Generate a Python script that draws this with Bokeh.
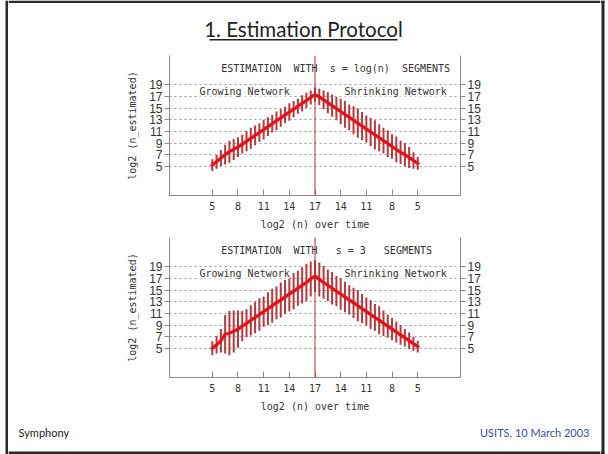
from bokeh.plotting import figure
from bokeh.models import (ColumnDataSource, FixedTicker, LinearAxis, Label,
                          Range1d, Span)
from bokeh.layouts import column, row
from bokeh.core.properties import value
from bokeh.embed import file_html
from bokeh.resources import INLINE

# ---------------- data ----------------
# experiment steps: network grows from log2(n)=5 to 17 then shrinks back to 5
steps = [0, 0.5, 1, 1.5, 2, 2.5, 3, 3.5, 4, 4.5, 5, 5.5, 6, 6.5, 7, 7.5,
         8, 8.5, 9, 9.5, 10, 10.5, 11, 11.5, 12, 12.5, 13, 13.5, 14, 14.5,
         15, 15.5, 16, 16.5, 17, 17.5, 18, 18.5, 19, 19.5, 20, 20.5, 21,
         21.5, 22, 22.5, 23, 23.5, 24]
tick_steps = [0, 3, 6, 9, 12, 15, 18, 21, 24]
tick_labels = ["5", "8", "11", "14", "17", "14", "11", "8", "5"]
y_ticks = [5, 7, 9, 11, 13, 15, 17, 19]
peak_step = 12

# s = log(n) segments: mean estimate and half error bar
est_log = [5.2, 5.8, 6.4, 7.0, 7.5, 7.9, 8.3, 8.8, 9.3, 9.8, 10.3, 10.8,
           11.3, 11.8, 12.3, 12.8, 13.3, 13.8, 14.3, 14.8, 15.3, 15.8, 16.3,
           16.8, 17.3, 16.9, 16.4, 15.9, 15.4, 14.9, 14.4, 13.9, 13.4, 12.9,
           12.4, 11.9, 11.4, 10.9, 10.4, 9.9, 9.4, 8.9, 8.4, 7.9, 7.4, 7.0,
           6.5, 6.0, 5.5]
err_log = [1.0, 1.2, 1.4, 1.7, 1.9, 1.8, 1.7, 1.6, 1.7, 1.8, 1.7, 1.6,
           1.7, 1.6, 1.5, 1.6, 1.5, 1.4, 1.5, 1.4, 1.3, 1.4, 1.3, 1.2, 1.2,
           1.4, 1.6, 1.8, 1.9, 2.0, 2.2, 2.3, 2.2, 2.4, 2.5, 2.4, 2.3, 2.4,
           2.5, 2.3, 2.2, 2.3, 2.1, 2.2, 2.0, 2.0, 1.8, 1.4, 1.1]

# s = 3 segments
est_s3 = [5.0, 5.6, 6.3, 7.4, 7.6, 7.9, 8.3, 8.8, 9.3, 9.8, 10.3, 10.8,
          11.3, 11.8, 12.3, 12.8, 13.3, 13.8, 14.3, 14.8, 15.3, 15.8, 16.3,
          16.9, 17.4, 16.8, 16.3, 15.8, 15.3, 14.8, 14.3, 13.8, 13.3, 12.8,
          12.3, 11.8, 11.3, 10.8, 10.3, 9.8, 9.3, 8.8, 8.3, 7.8, 7.3, 6.8,
          6.3, 5.8, 5.3]
err_s3 = [1.2, 1.5, 2.0, 3.3, 3.8, 3.6, 3.2, 2.6, 2.4, 2.6, 2.7, 2.8,
          2.6, 2.8, 2.9, 2.8, 3.0, 2.9, 3.0, 3.1, 3.0, 3.1, 3.2, 3.0, 2.7,
          2.9, 2.8, 2.7, 2.8, 2.6, 2.7, 2.6, 2.5, 2.6, 2.7, 2.5, 2.4, 2.5,
          2.3, 2.4, 2.2, 2.0, 1.9, 1.8, 1.7, 1.5, 1.4, 1.2, 1.0]

slide_title = "1. Estimation Protocol"
footer_left = "Symphony"
footer_right = "USITS, 10 March 2003"

# ---------------- layout geometry (pixels) ----------------
STRIP = 8            # side strips carrying the slide frame
CW = 592             # centre column width
H_HEAD, H_CHART, H_FOOT = 55, 182, 35
TOTAL_H = H_HEAD + 2 * H_CHART + H_FOOT
X0, X1 = -5, 29
Y0, Y1 = 0, 24

MONO = "DejaVu Sans Mono"
SANS = "Liberation Sans"
SLIDE = "Lato"
BORDER = "#2a2a2a"
NB = "\u00a0"


def blank(width, height):
    """A figure whose frame fills the canvas, in pixel coordinates (y down)."""
    p = figure(width=width, height=height, x_range=Range1d(0, width),
               y_range=Range1d(height, 0), output_backend="svg",
               toolbar_location=None, x_axis_location=None,
               y_axis_location=None, min_border=0, outline_line_color=None,
               background_fill_color="white", border_fill_color="white",
               frame_align=False)
    p.grid.visible = False
    return p


def chart(est, err, title_text):
    p = figure(width=CW, height=H_CHART, x_range=Range1d(X0, X1),
               y_range=Range1d(Y0, Y1), output_backend="svg",
               toolbar_location=None, min_border_left=161,
               min_border_right=140, min_border_top=0,
               min_border_bottom=42, outline_line_color=None,
               background_fill_color="white", border_fill_color="white",
               frame_align=False)

    lo = [m - e for m, e in zip(est, err)]
    hi = [m + e for m, e in zip(est, err)]
    src = ColumnDataSource(dict(x=steps, y=est, lo=lo, hi=hi))

    p.xgrid.visible = False
    p.ygrid.ticker = FixedTicker(ticks=y_ticks)
    p.ygrid.grid_line_color = "#9a9a9a"
    p.ygrid.grid_line_dash = "2 3"
    p.ygrid.grid_line_width = 1

    p.segment(x0="x", y0="lo", x1="x", y1="hi", source=src,
              line_color="#b33a3e", line_width=2.0)
    p.line("x", "y", source=src, line_color="#e5121a", line_width=3)
    p.scatter("x", "y", source=src, marker="cross", size=5,
              line_color="#e5121a", line_width=1)
    p.add_layout(Span(location=peak_step, dimension="height",
                      line_color="#c02a2a", line_width=1))

    xa = p.xaxis[0]
    xa.ticker = FixedTicker(ticks=tick_steps)
    xa.major_label_overrides = {t: l for t, l in zip(tick_steps, tick_labels)}
    xa.major_tick_in = 6
    xa.major_tick_out = 0
    xa.minor_tick_line_color = None
    xa.axis_line_color = "#8a8a8a"
    xa.major_tick_line_color = "#8a8a8a"
    xa.major_label_text_font = MONO
    xa.major_label_text_font_size = "10px"
    xa.major_label_text_color = "#333333"
    xa.major_label_standoff = 6
    xa.axis_label = "log2 (n) over time"
    xa.axis_label_text_font = MONO
    xa.axis_label_text_font_size = "10px"
    xa.axis_label_text_font_style = "normal"
    xa.axis_label_text_color = "#333333"
    xa.axis_label_standoff = 6

    ra = LinearAxis()
    p.add_layout(ra, "right")
    for ax in (p.yaxis[0], ra):
        ax.ticker = FixedTicker(ticks=y_ticks)
        ax.major_tick_in = 0
        ax.major_tick_out = 5
        ax.minor_tick_line_color = None
        ax.axis_line_color = "#8a8a8a"
        ax.major_tick_line_color = "#8a8a8a"
        ax.major_label_text_font = SANS
        ax.major_label_text_font_size = "12px"
        ax.major_label_text_color = "#333333"
        ax.major_label_standoff = 2
    ya = p.yaxis[0]
    ya.axis_label = "log2 (n_estimated)"
    ya.axis_label_text_font = MONO
    ya.axis_label_text_font_size = "10px"
    ya.axis_label_text_font_style = "normal"
    ya.axis_label_text_color = "#333333"
    ya.axis_label_standoff = 8

    p.add_layout(Label(x=1.05, y=21.8, text=title_text,
                       text_font=MONO, text_font_size="10px",
                       text_color="#333333", text_baseline="middle"))
    p.add_layout(Label(x=-1.5, y=17.9, text="Growing" + NB + "Network",
                       text_font=MONO, text_font_size="10px",
                       text_color="#333333", text_baseline="middle",
                       background_fill_color="white"))
    p.add_layout(Label(x=15.45, y=17.9, text="Shrinking" + NB + "Network",
                       text_font=MONO, text_font_size="10px",
                       text_color="#333333", text_baseline="middle",
                       background_fill_color="white"))
    return p


t1 = ("ESTIMATION" + NB * 2 + "WITH" + NB * 2 + "s" + NB + "=" + NB +
      "log(n)" + NB * 2 + "SEGMENTS")
t2 = ("ESTIMATION" + NB * 2 + "WITH" + NB * 3 + "s" + NB + "=" + NB + "3" +
      NB * 3 + "SEGMENTS")

p1 = chart(est_log, err_log, t1)
p2 = chart(est_s3, err_s3, t2)

# header: slide title with underline and top edge of the slide frame
head = blank(CW, H_HEAD)
head.quad(left=[0], right=[CW], top=[0], bottom=[2.5], fill_color=BORDER,
          line_color=None)
head.text(x=[295], y=[28], text=[slide_title],
          text_font=value(SLIDE), text_font_size="20.5px",
          text_color="#222222", text_align="center", text_baseline="middle")
head.quad(left=[201], right=[389], top=[38.5], bottom=[40],
          fill_color="#222222", line_color=None)

# footer
foot = blank(CW, H_FOOT)
foot.quad(left=[0], right=[CW], top=[32], bottom=[34.5], fill_color=BORDER,
          line_color=None)
foot.text(x=[10], y=[13], text=[footer_left], text_font=value(SLIDE),
          text_font_size="11px", text_color="#222222",
          text_baseline="middle")
foot.text(x=[581], y=[13], text=[footer_right], text_font=value(SLIDE),
          text_font_size="11px", text_color="#3a4fa0", text_align="right",
          text_baseline="middle")

# side strips of the slide frame
left = blank(STRIP, TOTAL_H)
left.quad(left=[5], right=[8], top=[0], bottom=[453.5], fill_color=BORDER,
          line_color=None)
right = blank(STRIP, TOTAL_H)
right.quad(left=[0], right=[4], top=[0], bottom=[2.5], fill_color=BORDER,
           line_color=None)
right.quad(left=[0], right=[4], top=[451], bottom=[453.5],
           fill_color=BORDER, line_color=None)
right.quad(left=[1], right=[4], top=[0], bottom=[453.5], fill_color=BORDER,
           line_color=None)

layout = row(left, column(head, p1, p2, foot), right)
open("out.html", "w").write(file_html(layout, INLINE))
